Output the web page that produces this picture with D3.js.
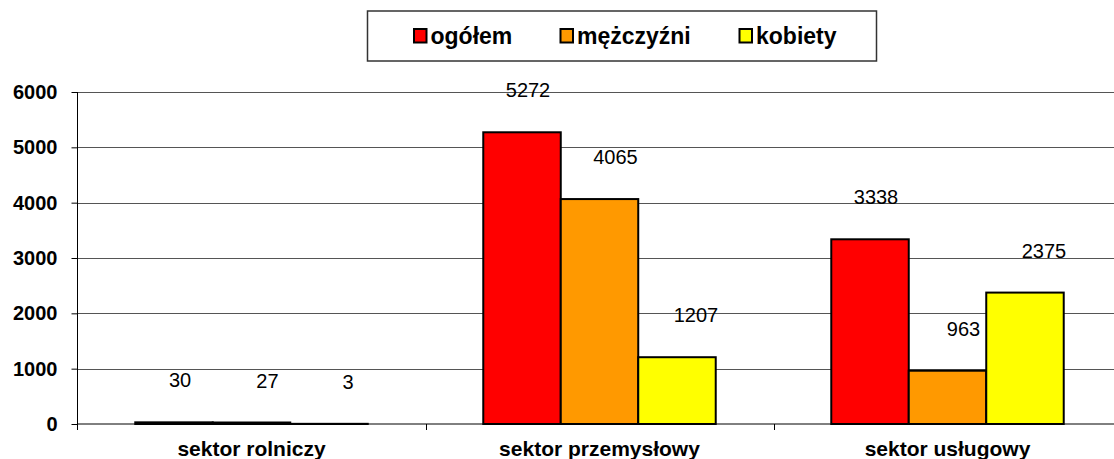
<!DOCTYPE html>
<html>
<head>
<meta charset="utf-8">
<script src="https://cdn.jsdelivr.net/npm/d3@7"></script>
<style>
  html, body { margin: 0; padding: 0; background: #fff; }
  svg { display: block; font-family: "Liberation Sans", Arial, sans-serif; }
</style>
</head>
<body>
<svg id="chart" width="1114" height="459"></svg>
<script>
// Employment by sector and sex
const categories = ["sektor rolniczy", "sektor przemysłowy", "sektor usługowy"];
const seriesNames = ["ogółem", "mężczyźni", "kobiety"];
const ogolem = [30, 5272, 3338];
const mezczyzni = [27, 4065, 963];
const kobiety = [3, 1207, 2375];
const yTicks = [0, 1000, 2000, 3000, 4000, 5000, 6000];

const seriesValues = [ogolem, mezczyzni, kobiety];
const colors = ["#FF0000", "#FF9900", "#FFFF00"];
const labelShift = [6, 16, 19];

const svg = d3.select("#chart");

const plot = { left: 77.5, right: 1121.5, top: 92, bottom: 424 };

const y = d3.scaleLinear().domain([0, 6000]).range([plot.bottom, plot.top]);
const x0 = d3.scaleBand().domain(categories)
  .range([plot.left, plot.right])
  .paddingInner(0.332).paddingOuter(0.166);
const x1 = d3.scaleBand().domain(d3.range(seriesNames.length))
  .range([0, x0.bandwidth()]);

// horizontal gridlines
svg.append("g")
  .selectAll("line")
  .data(yTicks.filter(d => d > 0))
  .join("line")
  .attr("x1", plot.left).attr("x2", plot.right)
  .attr("y1", d => Math.round(y(d)) + 0.5).attr("y2", d => Math.round(y(d)) + 0.5)
  .attr("stroke", "#555").attr("stroke-width", 1);

// y axis
const yAxis = d3.axisLeft(y).tickValues(yTicks).tickSize(6).tickPadding(14).tickFormat(d3.format("d"));
const gy = svg.append("g")
  .attr("transform", `translate(${plot.left},0)`)
  .call(yAxis);
gy.select(".domain").attr("d", `M0,${plot.top}V${plot.bottom + 6}`).attr("stroke", "#000");
gy.selectAll(".tick line").attr("stroke", "#000");
gy.selectAll(".tick text")
  .attr("font-size", 20).attr("font-weight", "bold").attr("fill", "#000")
  .attr("font-family", "'Liberation Sans', Arial, sans-serif");

// bars
const groups = svg.append("g")
  .selectAll("g")
  .data(categories)
  .join("g")
  .attr("transform", d => `translate(${x0(d)},0)`);

groups.selectAll("rect")
  .data((c, ci) => seriesValues.map((vals, si) => ({ si, v: vals[ci] })))
  .join("rect")
  .attr("x", d => x1(d.si))
  .attr("width", x1.bandwidth())
  .attr("y", d => y(d.v))
  .attr("height", d => plot.bottom - y(d.v))
  .attr("fill", d => colors[d.si])
  .attr("stroke", "#000")
  .attr("stroke-width", 2);

// value labels
groups.selectAll("text")
  .data((c, ci) => seriesValues.map((vals, si) => ({ si, v: vals[ci] })))
  .join("text")
  .attr("x", d => x1(d.si) + x1.bandwidth() / 2 + labelShift[d.si])
  .attr("y", d => y(d.v) - 35)
  .attr("text-anchor", "middle")
  .attr("font-size", 20)
  .attr("fill", "#000")
  .text(d => d.v);

// x axis
const gx = svg.append("g").attr("transform", `translate(0,${plot.bottom})`);
gx.append("line")
  .attr("x1", plot.left).attr("x2", plot.right)
  .attr("y1", 0).attr("y2", 0)
  .attr("stroke", "#000");
gx.selectAll(".sep")
  .data(categories.slice(1))
  .join("line")
  .attr("class", "sep")
  .attr("x1", d => Math.round(x0(d) - x0.step() * 0.332 / 2) + 0.5)
  .attr("x2", d => Math.round(x0(d) - x0.step() * 0.332 / 2) + 0.5)
  .attr("y1", 0).attr("y2", 6)
  .attr("stroke", "#000");
gx.selectAll(".cat")
  .data(categories)
  .join("text")
  .attr("class", "cat")
  .attr("x", d => x0(d) + x0.bandwidth() / 2)
  .attr("y", 32)
  .attr("text-anchor", "middle")
  .attr("font-size", 21)
  .attr("font-weight", "bold")
  .attr("fill", "#000")
  .text(d => d);

// legend
const legend = svg.append("g");
legend.append("rect")
  .attr("x", 367.5).attr("y", 11)
  .attr("width", 509).attr("height", 50)
  .attr("fill", "#fff").attr("stroke", "#333").attr("stroke-width", 1.5);
const legendX = [413.5, 560, 739];
const items = legend.selectAll("g.item")
  .data(seriesNames)
  .join("g")
  .attr("class", "item")
  .attr("transform", (d, i) => `translate(${legendX[i]},0)`);
items.append("rect")
  .attr("x", 0.5).attr("y", 29)
  .attr("width", 12.5).attr("height", 13.5)
  .attr("fill", (d, i) => colors[i])
  .attr("stroke", "#000").attr("stroke-width", 2);
items.append("text")
  .attr("x", 17).attr("y", 43.5)
  .attr("font-size", 23)
  .attr("font-weight", "bold")
  .attr("fill", "#000")
  .text(d => d);
</script>
</body>
</html>
